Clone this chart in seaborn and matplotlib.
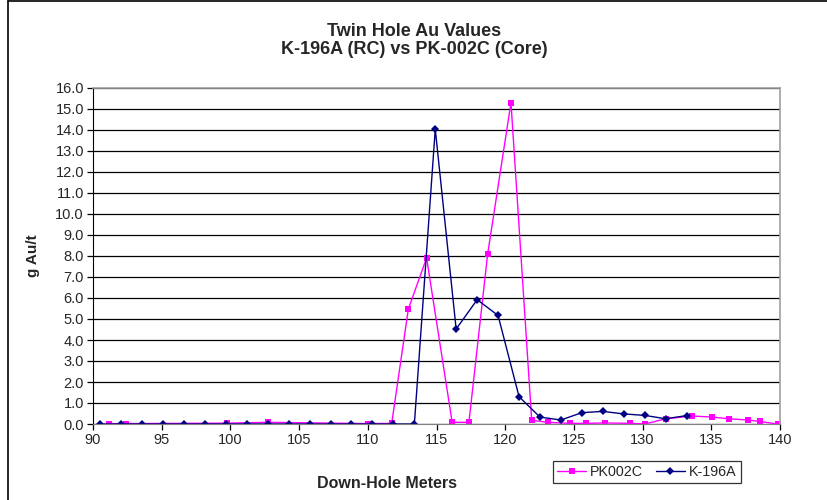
import pandas as pd
import matplotlib.pyplot as plt
import seaborn as sns
from matplotlib.lines import Line2D

# PK002C (core) - muestras irregulares
pk_depth = [91.19, 92.38, 99.73, 102.76, 110.04, 111.74, 112.95, 114.28, 116.14,
            117.36, 118.72, 120.42, 121.93, 123.09, 124.72, 125.88, 127.26,
            129.08, 130.17, 131.70, 133.62, 135.07, 136.29, 137.65, 138.55, 139.83]
pk_au = [0.02, 0.02, 0.04, 0.08, 0.02, 0.03, 5.47, 7.91, 0.08,
         0.08, 8.08, 15.30, 0.18, 0.08, 0.03, 0.03, 0.05,
         0.03, 0.00, 0.25, 0.38, 0.33, 0.25, 0.19, 0.12, 0.00]

# K-196A (RC) - intervalos de 5 ft
k_depth = [90.53, 92.05, 93.57, 95.10, 96.62, 98.15, 99.67, 101.19, 102.72, 104.24,
           105.77, 107.29, 108.81, 110.34, 111.86, 113.39, 114.91, 116.43, 117.96,
           119.48, 121.01, 122.53, 124.05, 125.58, 127.10, 128.63, 130.15, 131.67, 133.20]
k_au = [0.0, 0.0, 0.0, 0.0, 0.0, 0.0, 0.0, 0.0, 0.0, 0.0,
        0.0, 0.0, 0.0, 0.0, 0.0, 0.0, 14.04, 4.52, 5.92,
        5.17, 1.30, 0.33, 0.19, 0.54, 0.60, 0.48, 0.41, 0.25, 0.40]

sns.set_style("white")
plt.rcParams['font.family'] = ['Liberation Sans', 'DejaVu Sans']

fig = plt.figure(figsize=(8.28, 5.0), dpi=100)
ax = fig.add_axes([93 / 828, 1 - 424 / 500, 687 / 828, 336 / 500])

df_pk = pd.DataFrame({'depth': pk_depth, 'au': pk_au})
df_k = pd.DataFrame({'depth': k_depth, 'au': k_au})

sns.lineplot(data=df_pk, x='depth', y='au', ax=ax, color='#FF00FF', marker='s',
             markersize=4, markeredgewidth=0, linewidth=1.0, sort=False)
sns.lineplot(data=df_k, x='depth', y='au', ax=ax, color='#000080', marker='D',
             markersize=4, markeredgewidth=0, linewidth=1.0, sort=False)

ax.set_xlim(90, 140)
ax.set_ylim(0, 16)
ax.set_xticks(range(90, 141, 5))
ax.set_yticks(range(0, 17))
ax.set_yticklabels([f"{v:.1f}" for v in range(0, 17)])
ax.yaxis.grid(True, color='black', linewidth=0.9)
ax.set_axisbelow(True)
ax.tick_params(axis='both', labelsize=10.5, length=4, width=0.9, color='black',
               direction='out', left=True, bottom=True, pad=2.5)
for s in ['top', 'right']:
    ax.spines[s].set_color('#a0a0a0')
    ax.spines[s].set_linewidth(1.2)
ax.spines['left'].set_color('black')
ax.spines['bottom'].set_color('#808080')
ax.set_xlabel('')
ax.set_ylabel('')

fig.text(33 / 828, 1 - 256 / 500, 'g Au/t', ha='center', va='center', rotation=90,
         fontsize=11, fontweight='bold')
fig.text(0.5, 1 - 31 / 500, 'Twin Hole Au Values', ha='center', va='center',
         fontsize=13, fontweight='bold')
fig.text(0.5, 1 - 50 / 500, 'K-196A (RC) vs PK-002C (Core)', ha='center', va='center',
         fontsize=13, fontweight='bold')
fig.text(387 / 828, 1 - 483 / 500, 'Down-Hole Meters', ha='center', va='center',
         fontsize=11.5, fontweight='bold')

handles = [Line2D([], [], color='#FF00FF', marker='s', markersize=4, markeredgewidth=0, lw=1),
           Line2D([], [], color='#000080', marker='D', markersize=4, markeredgewidth=0, lw=1)]
leg = fig.legend(handles, ['PK002C', 'K-196A'], loc='center',
                 bbox_to_anchor=(647 / 828, 1 - 472 / 500), ncol=2, frameon=True,
                 fancybox=False, fontsize=10.3, handlelength=2.0, handletextpad=0.3,
                 columnspacing=0.9, borderpad=0.3)
leg.get_frame().set_edgecolor('black')
leg.get_frame().set_linewidth(0.9)

# borde exterior del grafico (izquierda y arriba)
fig.add_artist(Line2D([8 / 828, 8 / 828], [0, 1 - 1 / 500], color='black', lw=1.2,
                      transform=fig.transFigure))
fig.add_artist(Line2D([8 / 828, 1], [1 - 1 / 500, 1 - 1 / 500], color='black', lw=1.2,
                      transform=fig.transFigure))

fig.savefig('out.png', dpi=100)
